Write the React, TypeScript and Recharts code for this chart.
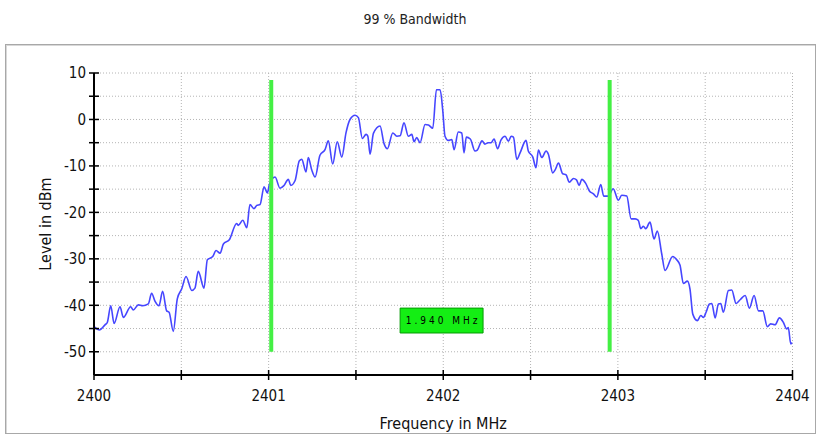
import React from 'react';
import { LineChart, Line, XAxis, YAxis, CartesianGrid, ReferenceLine, ReferenceArea } from 'recharts';

const freqMHz: number[] = [
  2400.000, 2400.030, 2400.063, 2400.076, 2400.096, 2400.115, 2400.149, 2400.168, 2400.210, 2400.225,
  2400.254, 2400.279, 2400.311, 2400.330, 2400.349, 2400.372, 2400.393, 2400.416, 2400.430, 2400.454,
  2400.477, 2400.502, 2400.527, 2400.560, 2400.578, 2400.597, 2400.630, 2400.649, 2400.680, 2400.699,
  2400.722, 2400.741, 2400.775, 2400.817, 2400.826, 2400.852, 2400.875, 2400.893, 2400.916, 2400.932,
  2400.951, 2400.974, 2400.993, 2401.004, 2401.037, 2401.065, 2401.088, 2401.113, 2401.127, 2401.151,
  2401.176, 2401.190, 2401.214, 2401.227, 2401.247, 2401.266, 2401.294, 2401.323, 2401.342, 2401.367,
  2401.393, 2401.419, 2401.443, 2401.466, 2401.495, 2401.514, 2401.537, 2401.558, 2401.568, 2401.581,
  2401.600, 2401.638, 2401.661, 2401.680, 2401.711, 2401.734, 2401.753, 2401.775, 2401.800, 2401.820,
  2401.833, 2401.848, 2401.867, 2401.896, 2401.915, 2401.940, 2401.961, 2401.982, 2401.997, 2402.010,
  2402.029, 2402.049, 2402.062, 2402.086, 2402.106, 2402.119, 2402.132, 2402.155, 2402.182, 2402.195,
  2402.222, 2402.239, 2402.257, 2402.274, 2402.291, 2402.311, 2402.331, 2402.354, 2402.373, 2402.389,
  2402.402, 2402.421, 2402.440, 2402.474, 2402.487, 2402.513, 2402.531, 2402.545, 2402.564, 2402.589,
  2402.602, 2402.627, 2402.640, 2402.660, 2402.684, 2402.703, 2402.722, 2402.746, 2402.763, 2402.778,
  2402.793, 2402.815, 2402.837, 2402.860, 2402.879, 2402.902, 2402.919, 2402.946, 2402.973, 2403.003,
  2403.022, 2403.051, 2403.076, 2403.099, 2403.117, 2403.131, 2403.146, 2403.160, 2403.184, 2403.207,
  2403.226, 2403.251, 2403.270, 2403.314, 2403.337, 2403.356, 2403.375, 2403.398, 2403.413, 2403.429,
  2403.455, 2403.475, 2403.490, 2403.505, 2403.524, 2403.538, 2403.557, 2403.576, 2403.589, 2403.604,
  2403.633, 2403.652, 2403.677, 2403.700, 2403.729, 2403.753, 2403.780, 2403.805, 2403.830, 2403.856,
  2403.875, 2403.900, 2403.925, 2403.948, 2403.967, 2403.976, 2403.990, 2404.000,
];

const levelDbm: number[] = [
  -44.6, -45.3, -44.2, -43.7, -40.1, -43.9, -40.3, -42.6, -40.3, -41.0,
  -39.9, -40.1, -39.7, -37.4, -39.1, -40.1, -37.0, -41.2, -41.5, -45.6,
  -38.6, -36.5, -33.8, -36.8, -36.3, -32.7, -36.3, -30.2, -29.5, -28.2,
  -28.8, -26.8, -25.9, -22.4, -22.8, -21.7, -23.3, -18.3, -19.2, -18.5,
  -18.3, -14.5, -15.8, -14.0, -12.4, -14.8, -14.2, -12.9, -14.2, -13.2,
  -8.9, -8.6, -11.3, -8.2, -10.9, -12.4, -7.7, -6.5, -4.6, -9.6,
  -4.8, -8.1, -2.9, 0.0, 0.9, 0.4, -4.1, -3.2, -3.6, -7.5,
  -3.0, -1.4, -5.2, -6.3, -2.9, -3.6, -3.5, -0.7, -3.6, -3.2,
  -4.8, -3.9, -5.0, -1.1, -1.2, -1.9, 6.4, 6.4, 2.0, -3.6,
  -4.5, -4.3, -6.5, -2.7, -2.9, -7.2, -3.8, -4.2, -6.8, -6.6,
  -4.6, -5.3, -5.0, -5.0, -4.2, -6.3, -4.4, -3.6, -4.7, -3.6,
  -3.8, -8.6, -7.2, -4.5, -6.8, -8.1, -10.4, -6.6, -8.2, -6.8,
  -7.5, -11.5, -10.9, -9.4, -11.7, -11.9, -13.5, -12.7, -13.0, -14.2,
  -12.9, -13.7, -15.4, -16.0, -16.7, -14.0, -16.5, -16.5, -14.9, -17.4,
  -16.3, -16.5, -21.4, -21.4, -21.7, -23.5, -23.0, -23.5, -22.1, -25.7,
  -24.0, -28.9, -32.5, -29.5, -30.2, -31.4, -35.3, -34.8, -36.5, -41.9,
  -43.3, -42.2, -42.6, -41.5, -39.7, -39.6, -42.7, -39.7, -39.6, -41.5,
  -36.8, -36.7, -39.6, -38.8, -37.9, -40.6, -37.9, -41.2, -41.2, -44.6,
  -44.0, -44.2, -42.7, -43.7, -45.1, -44.8, -48.3, -48.0,
];

const xTicks: number[] = [2400, 2400.5, 2401, 2401.5, 2402, 2402.5, 2403, 2403.5, 2404];
const yTicks: number[] = [-50, -45, -40, -35, -30, -25, -20, -15, -10, -5, 0, 5, 10];

// 99% occupied bandwidth markers (MHz) and marker span (dBm)
const markerFreqs: number[] = [2401.015, 2402.953];
const markerLevels: number[] = [-50, 8.5];
const bandwidthLabel = '1.940 MHz';
const labelBoxFreq: number[] = [2401.753, 2402.228];
const labelBoxLevel: number[] = [-45.96, -40.6];

const data = freqMHz.map((f, i) => ({ f, v: levelDbm[i] }));

const FONT = "'DejaVu Sans Condensed', 'DejaVu Sans', sans-serif";

const XTick = (props: any) => {
  const { x, y, payload } = props;
  const major = Number.isInteger(payload.value);
  return (
    <g>
      <line x1={x} x2={x} y1={y - 5} y2={y + 5} stroke="#000" strokeWidth={1.5} />
      {major && (
        <text x={x} y={y + 26} textAnchor="middle" fontFamily={FONT} fontSize={15} fill="#111">
          {payload.value}
        </text>
      )}
    </g>
  );
};

const YTick = (props: any) => {
  const { x, y, payload } = props;
  const major = payload.value % 10 === 0;
  return (
    <g>
      <line x1={x - 5} x2={x + 5} y1={y} y2={y} stroke="#000" strokeWidth={1.5} />
      {major && (
        <text x={x - 8} y={y} dy="0.36em" textAnchor="end" fontFamily={FONT} fontSize={15} fill="#111">
          {payload.value}
        </text>
      )}
    </g>
  );
};

const BoxLabel = (props: any) => {
  const vb = props.viewBox || {};
  const cx = vb.x + vb.width / 2;
  const cy = vb.y + vb.height / 2;
  return (
    <text x={cx + 1.5} y={cy} dy="0.36em" textAnchor="middle" fontFamily={FONT} fontSize={10} letterSpacing={3} fill="#000">
      {bandwidthLabel}
    </text>
  );
};

export default function App() {
  return (
    <div style={{ position: 'absolute', left: 0, top: 0, width: 819, height: 436, background: '#fff' }}>
      <div
        style={{
          position: 'absolute', left: 5, top: 44, width: 809, height: 388,
          border: '1px solid #a8a8a8', boxShadow: 'inset 1px 1px 0 #d8d8d8',
        }}
      />
      <div
        style={{
          position: 'absolute', left: 0, top: 11, width: 830, textAlign: 'center',
          fontFamily: FONT, fontSize: 14, color: '#222',
        }}
      >
        99 % Bandwidth
      </div>
      <div style={{ position: 'absolute', left: 0, top: 0 }}>
        <LineChart width={819} height={436} data={data} margin={{ top: 73, right: 26.5, bottom: 21, left: 34 }}>
          <CartesianGrid stroke="#b4b4b4" strokeDasharray="1 2" />
          <XAxis
            dataKey="f"
            type="number"
            domain={[2400, 2404]}
            ticks={xTicks}
            interval={0}
            height={40}
            tickSize={0}
            tickMargin={0}
            tickLine={false}
            tick={<XTick />}
            axisLine={{ stroke: '#000', strokeWidth: 2 }}
            allowDataOverflow
            label={{ value: 'Frequency in MHz', position: 'insideBottom', offset: -14, fontFamily: FONT, fontSize: 16, fill: '#111' }}
          />
          <YAxis
            type="number"
            domain={[-55, 10]}
            ticks={yTicks}
            interval={0}
            width={60}
            tickSize={0}
            tickMargin={0}
            tickLine={false}
            tick={<YTick />}
            axisLine={{ stroke: '#000', strokeWidth: 2 }}
            allowDataOverflow
            label={{ value: 'Level in dBm', angle: -90, position: 'insideLeft', offset: 11, fontFamily: FONT, fontSize: 16, fill: '#111', style: { textAnchor: 'middle' } }}
          />
          <Line type="monotone" dataKey="v" stroke="#4646ff" strokeWidth={1.6} dot={false} isAnimationActive={false} />
          {markerFreqs.map((mf) => (
            <ReferenceLine
              key={mf}
              segment={[{ x: mf, y: markerLevels[0] }, { x: mf, y: markerLevels[1] }]}
              stroke="#44f044"
              strokeWidth={4}
            />
          ))}
          <ReferenceArea
            x1={labelBoxFreq[0]}
            x2={labelBoxFreq[1]}
            y1={labelBoxLevel[0]}
            y2={labelBoxLevel[1]}
            fill="#14ee14"
            fillOpacity={1}
            stroke="#049a04"
            strokeWidth={1}
            label={<BoxLabel />}
          />
        </LineChart>
      </div>
    </div>
  );
}
